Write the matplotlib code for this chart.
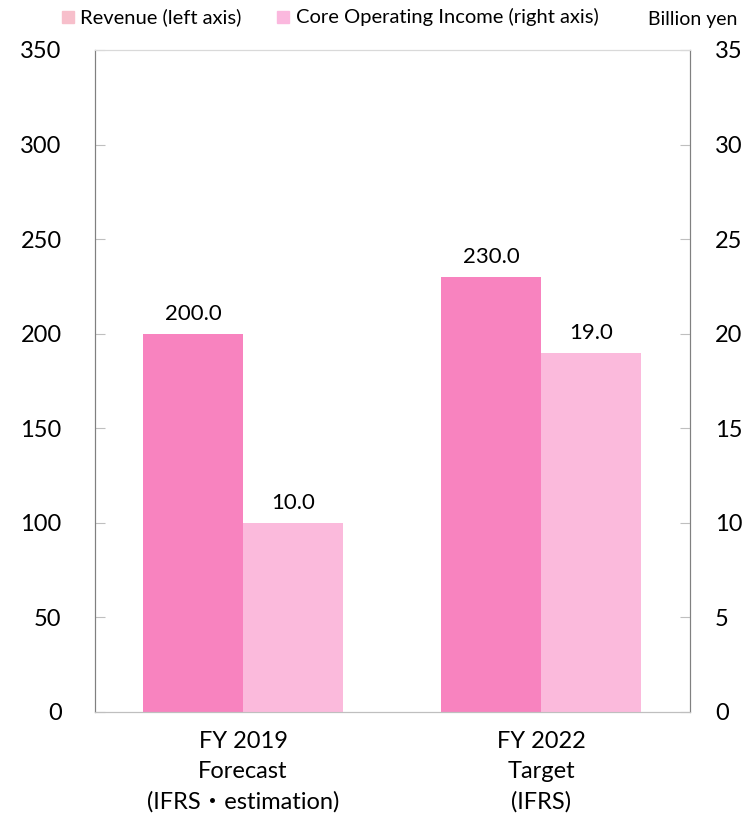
import matplotlib.pyplot as plt
import numpy as np

plt.rcParams['font.family'] = ['Lato', 'Noto Sans CJK JP', 'DejaVu Sans']

categories = ["FY 2019\nForecast\n(IFRS\u30fbestimation)", "FY 2022\nTarget\n(IFRS)"]
revenue = [200.0, 230.0]
core_income = [10.0, 19.0]

rev_color = "#f883bf"
core_color = "#fbbadc"

fig = plt.figure(figsize=(7.53, 8.17), dpi=100)
ax = fig.add_axes([95 / 753, 1 - 712 / 817, 595 / 753, 662 / 817])
ax2 = ax.twinx()

x = np.arange(len(categories))
w = 0.335

# revenue on the left scale, core operating income on the right scale
ax.bar(x - w / 2, revenue, w, color=rev_color, zorder=2)
ax2.bar(x + w / 2, core_income, w, color=core_color, zorder=2)

ax.set_xlim(-0.497, 1.5)
ax.set_ylim(0, 350)
ax2.set_ylim(0, 35)
ax.set_yticks(range(0, 351, 50))
ax2.set_yticks(range(0, 36, 5))

for xi, v in zip(x - w / 2, revenue):
    ax.annotate(f"{v:.1f}", (xi, v), xytext=(0, 7), textcoords="offset points",
                ha="center", va="bottom", fontsize=16)
for xi, v in zip(x + w / 2, core_income):
    ax2.annotate(f"{v:.1f}", (xi, v), xytext=(0, 7), textcoords="offset points",
                 ha="center", va="bottom", fontsize=16)

ax.set_xticks(x)
ax.set_xticklabels(categories, fontsize=17, linespacing=1.5)
ax.tick_params(axis="x", length=0, pad=14)
ax.tick_params(axis="y", direction="in", length=7, color="#bfbfbf",
               labelsize=17, pad=24)
ax2.tick_params(axis="y", direction="in", length=7, color="#bfbfbf",
                labelsize=17, pad=18)

for a in (ax, ax2):
    a.spines["left"].set_color("#808080")
    a.spines["right"].set_color("#808080")
    a.spines["top"].set_color("#d9d9d9")
    a.spines["bottom"].set_color("#bfbfbf")

# legend row across the top
fig.patches.append(plt.Rectangle((62 / 753, 1 - 23 / 817), 12 / 753, 12 / 817,
                                 transform=fig.transFigure, color="#f7bfcb"))
fig.text(80 / 753, 1 - 17 / 817, "Revenue (left axis)", fontsize=14.5, va="center")
fig.patches.append(plt.Rectangle((277 / 753, 1 - 23 / 817), 12 / 753, 12 / 817,
                                 transform=fig.transFigure, color="#fbb8de"))
fig.text(296 / 753, 1 - 17 / 817, "Core Operating Income (right axis)", fontsize=14.5, va="center")
fig.text(648 / 753, 1 - 19 / 817, "Billion yen", fontsize=14, va="center")

fig.savefig("out.png", dpi=100)
